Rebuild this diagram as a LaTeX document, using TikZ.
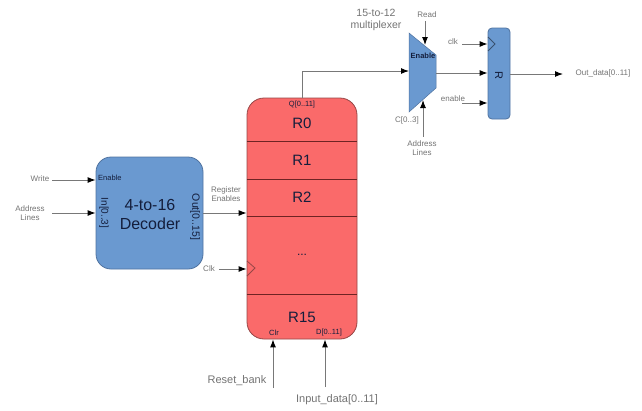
\documentclass[tikz,border=0pt]{standalone}
\usepackage{fontspec}
\setmainfont{Liberation Sans}
\usetikzlibrary{arrows.meta}

\definecolor{blueblk}{RGB}{106,153,208}
\definecolor{blueedge}{RGB}{80,115,160}
\definecolor{redblk}{RGB}{250,106,106}
\definecolor{rededge}{RGB}{150,70,70}
\definecolor{sepline}{RGB}{110,35,35}
\definecolor{labelgray}{RGB}{115,115,115}
\definecolor{wiregray}{RGB}{120,120,120}
\definecolor{inktext}{RGB}{20,30,60}

\begin{document}
\begin{tikzpicture}[
        x=1pt, y=-1pt,
        blk/.style   ={draw=blueedge, fill=blueblk, line width=0.8pt},
        bank/.style  ={draw=rededge, fill=redblk, line width=0.8pt},
        wire/.style  ={draw=wiregray, line width=1pt, -{Latex[length=8pt,width=6pt,black]}},
        lbl/.style   ={text=labelgray, align=center, inner sep=0pt,
                       font=\fontsize{8}{9}\selectfont},
        big/.style   ={text=labelgray, inner sep=0pt, font=\fontsize{11}{12}\selectfont},
        ink/.style   ={text=inktext, inner sep=0pt}
    ]
    \useasboundingbox (0,0) rectangle (642,410);

    %-----------------  4-to-16 decoder  --------------------
    \node[blk, rounded corners=15pt, minimum width=107pt, minimum height=112pt]
        (dec) at (149.5,213) {};
    \node[ink, font=\fontsize{16}{18}\selectfont] (dectop) at (150,205) {4-to-16};
    \node[ink, font=\fontsize{16}{18}\selectfont] (decbot) at (150,224) {Decoder};
    \node[ink, font=\fontsize{7.5}{8}\selectfont, anchor=west] (decen) at (98,178) {Enable};
    \node[ink, rotate=-90, font=\fontsize{10}{11}\selectfont] (decin) at (104,213) {In[0..3]};
    \node[ink, rotate=-90, font=\fontsize{10.5}{11}\selectfont] (decout) at (195,217) {Out[0..15]};

    % inputs of the decoder
    \node[lbl] (write) at (40,179) {Write};
    \node[lbl, font=\fontsize{8}{8.5}\selectfont] (addr) at (30,213) {Address\\Lines};
    \draw[wire] (write.east) ++(3,1) -- (dec.west |- 0,180);
    \draw[wire] (52,213) -- (dec.west |- addr);

    %-----------------  register bank  --------------------
    \node[bank, rounded corners=17pt, minimum width=110pt, minimum height=241pt]
        (bank) at (302,218.5) {};
    \foreach \yy in {141,179,216,294}
        \draw[sepline, line width=0.8pt] (bank.west |- 0,\yy) -- (bank.east |- 0,\yy);
    % clock mark
    \draw[rededge, line width=0.8pt] (247,261) -- (255,268) -- (247,276);

    \node[ink, font=\fontsize{7.5}{8}\selectfont] (bq) at (302,105) {Q[0..11]};
    \node[ink, font=\fontsize{15}{16}\selectfont] (r0) at (302,123) {R0};
    \node[ink, font=\fontsize{15}{16}\selectfont] (r1) at (302,160) {R1};
    \node[ink, font=\fontsize{15}{16}\selectfont] (r2) at (302,197) {R2};
    \node[ink, font=\fontsize{12}{13}\selectfont] (rdots) at (302,255) {...};
    \node[ink, font=\fontsize{15}{16}\selectfont] (r15) at (302,317) {R15};
    \node[ink, font=\fontsize{7.5}{8}\selectfont] (bclr) at (274,333) {Clr};
    \node[ink, font=\fontsize{7.5}{8}\selectfont] (bd) at (329,333) {D[0..11]};

    % decoder to bank
    \node[lbl] (regen) at (226,194) {Register\\Enables};
    \draw[wire] (dec.east |- 0,213) -- (bank.west |- 0,213);
    \node[lbl] (clk) at (209,269) {Clk};
    \draw[wire] (clk.east) ++(4,0) -- (bank.west |- clk);

    % bottom inputs
    \node[big] (reset) at (237,381) {Reset\_bank};
    \node[big] (indata) at (337,400) {Input\_data[0..11]};
    \coordinate (rsttail) at (273,388);
    \coordinate (intail) at (325,387);
    \draw[wire] (rsttail) -- (rsttail |- bank.south);
    \draw[wire] (intail) -- (intail |- bank.south);

    %-----------------  15-to-12 multiplexer  --------------------
    \coordinate (mtl) at (409,33);
    \coordinate (mtr) at (436,55);
    \coordinate (mbr) at (436,88);
    \coordinate (mbl) at (409,112);
    \draw[blk, line width=0.5pt] (mtl) -- (mtr) -- (mbr) -- (mbl) -- cycle;
    \node[ink, font=\fontsize{7.5}{8}\selectfont\bfseries] (muxen) at (423,56) {Enable};
    \node[text=labelgray, align=center, inner sep=0pt, font=\fontsize{10.5}{11.5}\selectfont]
        (muxname) at (376,20) {15-to-12\\multiplexer};
    \coordinate (muxin)  at (409,71);
    \coordinate (muxout) at (436,73);
    \coordinate (muxtop) at (425,45);
    \coordinate (muxbot) at (423,100);

    \draw[wire] (bank.north) |- (muxin);
    \node[lbl] (read) at (427,15) {Read};
    \draw[wire] (muxtop |- read.south) ++(0,3) -- (muxtop);
    \node[lbl] (csel) at (407,120) {C[0..3]};
    \node[lbl, font=\fontsize{8}{8.5}\selectfont] (maddr) at (422,148) {Address\\Lines};
    \draw[wire] (maddr.north -| muxbot) ++(0,-4) -- (muxbot);

    %-----------------  output register  --------------------
    \node[blk, rounded corners=4pt, minimum width=22pt, minimum height=91pt]
        (rreg) at (499,73.5) {};
    \draw[blueedge!70!black, line width=0.8pt] (488,37) -- (495,44) -- (488,51);
    \node[ink, rotate=-90, font=\fontsize{11}{12}\selectfont] (rname) at (499,75) {R};
    \node[lbl] (rclk) at (453,42) {clk};
    \node[lbl] (ren) at (453,99) {enable};
    \draw[wire] (462,44) -- (rreg.west |- 0,44);
    \draw[wire] (muxout) -- (rreg.west |- muxout);
    \draw[wire] (462,103) -- (rreg.west |- 0,103);

    \node[lbl] (outd) at (603,73) {Out\_data[0..11]};
    \draw[wire] (rreg.east |- 0,74) -- (563,74);
\end{tikzpicture}
\end{document}
